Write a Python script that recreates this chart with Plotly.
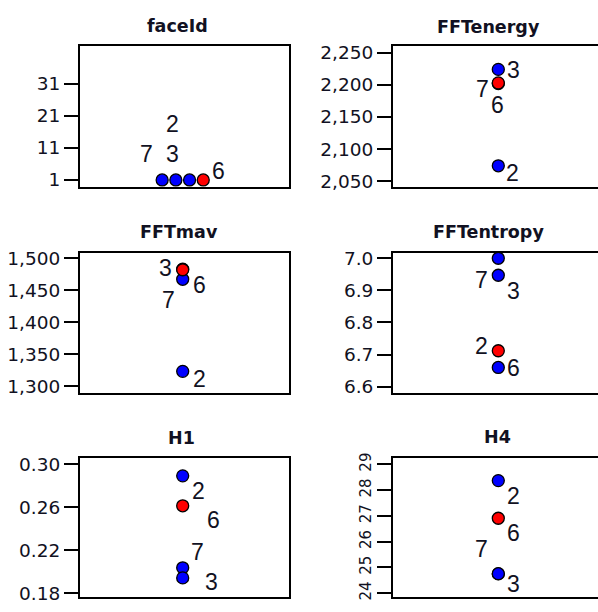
import plotly.graph_objects as go

# ---------------- data ----------------
ids = ["7", "3", "2", "6"]
highlight_id = "6"
features = ["faceId", "FFTenergy", "FFTmav", "FFTentropy", "H1", "H4"]
faceid_vals = [1, 1, 1, 1]
fftenergy_vals = [2202, 2224, 2074, 2203]
fftmav_vals = [1467, 1483, 1323, 1482]
fftentropy_vals = [6.947, 7.0, 6.660, 6.712]
h1_vals = [0.2037, 0.1943, 0.2893, 0.2614]
h4_vals = [24.75, 24.76, 28.37, 26.91]
faceid_ticks = [1, 11, 21, 31]
fftenergy_ticks = [2050, 2100, 2150, 2200, 2250]
fftmav_ticks = [1300, 1350, 1400, 1450, 1500]
fftentropy_ticks = [6.6, 6.7, 6.8, 6.9, 7.0]
h1_ticks = [0.18, 0.22, 0.26, 0.30]
h4_ticks = [24, 25, 26, 27, 28, 29]

values = [faceid_vals, fftenergy_vals, fftmav_vals, fftentropy_vals, h1_vals, h4_vals]
ticks = [faceid_ticks, fftenergy_ticks, fftmav_ticks, fftentropy_ticks, h1_ticks, h4_ticks]

# ---------------- layout ----------------
W, H = 598, 612
col_x = [(80, 289), (393, 598)]          # inner plot-area pixel extents
col_center = [182.7, 498.3]              # pixel of the dot column
row_y = [(41, 185), (252, 395), (462, 604)]
PX_PER_UNIT_X = 100.0
DODGE_PX = 13.7

panel_style = [
    dict(fmt="d", calib=((1, 177.7), (31, 79.3)), title_xy=(177, 20), angle=0, tsize=18.5,
         lab={"7": (-15.5, -26), "3": (-3.4, -26), "2": (-17, -56), "6": (15.4, -8.5)}),
    dict(fmt=",d", calib=((2050, 179.0), (2250, 47.7)), title_xy=(488, 21), angle=0, tsize=18.5,
         lab={"7": (-16.3, 5.7), "3": (15.2, 0.5), "2": (13.7, 7.2), "6": (-0.8, 22.2)}),
    dict(fmt=",d", calib=((1300, 388.3), (1500, 257.7)), title_xy=(179, 231), angle=0, tsize=18.5,
         lab={"3": (-17.7, -1.1), "6": (16.3, 15.2), "7": (-14.7, 20.2), "2": (16.3, 7.2)}),
    dict(fmt=".1f", calib=((6.6, 389.0), (7.0, 257.7)), title_xy=(488, 231), angle=0, tsize=18.5,
         lab={"7": (-16.6, 5), "3": (15, 32.3), "2": (-16.6, -21.8), "6": (15, 16.8)}),
    dict(fmt=".2f", calib=((0.18, 600.0), (0.30, 468.3)), title_xy=(181, 441), angle=0, tsize=18.5,
         lab={"2": (16.1, 15), "6": (30.6, 14), "7": (14.8, -15.7), "3": (29, 4)}),
    dict(fmt="d", calib=((24, 600.0), (29, 468.3)), title_xy=(497, 440), angle=-90, tsize=15,
         lab={"2": (14.7, 15), "6": (15, 15), "7": (-16.6, -25.3), "3": (15, 10)}),
]

TEXT_COLOR = "#111122"
fig = go.Figure()
annotations = []
layout_axes = {}


def dodge(vals):
    """Spread exactly-equal values horizontally (beeswarm-like)."""
    xs = []
    groups = {}
    for v in vals:
        groups[v] = groups.get(v, 0) + 1
    seen = {}
    for v in vals:
        n = groups[v]
        k = seen.get(v, 0)
        seen[v] = k + 1
        xs.append((k - (n - 1) / 2) * DODGE_PX / PX_PER_UNIT_X)
    return xs


for i, (feat, vals, tv, st) in enumerate(zip(features, values, ticks, panel_style)):
    row, col = divmod(i, 2)
    n = i + 1
    xa = "xaxis" if n == 1 else f"xaxis{n}"
    ya = "yaxis" if n == 1 else f"yaxis{n}"
    xr = "x" if n == 1 else f"x{n}"
    yr = "y" if n == 1 else f"y{n}"

    x0p, x1p = col_x[col]
    y0p, y1p = row_y[row]
    xmin = -(col_center[col] - x0p) / PX_PER_UNIT_X
    xmax = (x1p - col_center[col]) / PX_PER_UNIT_X
    (v1, p1), (v2, p2) = st["calib"]
    k = (p1 - p2) / (v2 - v1)
    ytop = v2 + (p2 - y0p) / k
    ybot = v1 - (y1p - p1) / k

    layout_axes[xa] = dict(domain=[x0p / W, x1p / W], range=[xmin, xmax], anchor=yr,
                           showline=True, mirror=True, linewidth=2, linecolor="black",
                           showticklabels=False, ticks="", showgrid=False, zeroline=False,
                           fixedrange=True)
    layout_axes[ya] = dict(domain=[1 - y1p / H, 1 - y0p / H], range=[ybot, ytop], anchor=xr,
                           showline=True, mirror=bool(col == 0), linewidth=2, linecolor="black",
                           ticks="outside", ticklen=14, tickwidth=2, tickcolor="black",
                           tickvals=tv, tickformat=st["fmt"], tickangle=st["angle"],
                           tickfont=dict(family="DejaVu Sans", size=st["tsize"], color=TEXT_COLOR),
                           showgrid=False, zeroline=False, fixedrange=True)

    xs = dodge(vals)
    blue = [j for j, d in enumerate(ids) if d != highlight_id]
    red = [j for j, d in enumerate(ids) if d == highlight_id]
    for idx, colr in ((blue, "#0000ff"), (red, "#ff0000")):
        fig.add_trace(go.Scatter(
            x=[xs[j] for j in idx], y=[vals[j] for j in idx], mode="markers",
            xaxis=xr, yaxis=yr, showlegend=False, hoverinfo="skip",
            marker=dict(size=12, color=colr, line=dict(color="black", width=1.3)),
            cliponaxis=False))

    for j, d in enumerate(ids):
        dx, dy = st["lab"][d]
        annotations.append(dict(x=xs[j], y=vals[j], xref=xr, yref=yr, text=d,
                                showarrow=False, xshift=dx, yshift=-dy,
                                xanchor="center", yanchor="middle",
                                font=dict(family="Liberation Sans", size=23, color=TEXT_COLOR)))

    tx, ty = st["title_xy"]
    annotations.append(dict(x=tx / W, y=1 - ty / H, xref="paper", yref="paper",
                            text=f"<b>{feat}</b>", showarrow=False,
                            xanchor="center", yanchor="middle",
                            font=dict(family="DejaVu Sans", size=17.5, color=TEXT_COLOR)))

fig.update_layout(width=W, height=H, margin=dict(l=0, r=0, t=0, b=0),
                  paper_bgcolor="white", plot_bgcolor="white",
                  annotations=annotations, **layout_axes)

fig.write_html("out.html")
